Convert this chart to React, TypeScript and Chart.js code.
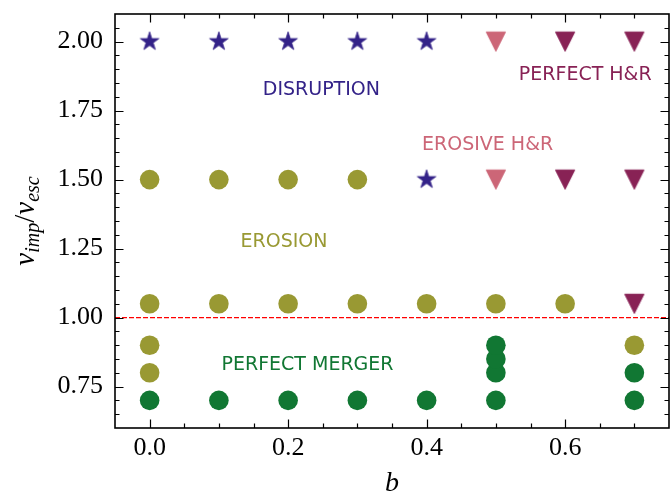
import React, { useEffect, useRef } from "react";
import { Chart, registerables } from "chart.js";

Chart.register(...registerables);

// ---- colours ----
const C_DISRUPTION = "#332288";
const C_EROSION = "#999933";
const C_MERGER = "#117733";
const C_EROSIVE_HR = "#CC6677";
const C_PERFECT_HR = "#882255";

// ---- data ----
const DISRUPTION_X = [0.0, 0.1, 0.2, 0.3, 0.4, 0.4];
const DISRUPTION_Y = [2.0, 2.0, 2.0, 2.0, 2.0, 1.5];

const EROSIVE_HR_X = [0.5, 0.5];
const EROSIVE_HR_Y = [2.0, 1.5];

const PERFECT_HR_X = [0.6, 0.7, 0.6, 0.7, 0.7];
const PERFECT_HR_Y = [2.0, 2.0, 1.5, 1.5, 1.05];

const EROSION_X = [0.0, 0.1, 0.2, 0.3, 0.0, 0.1, 0.2, 0.3, 0.4, 0.5, 0.6, 0.0, 0.0, 0.7];
const EROSION_Y = [1.5, 1.5, 1.5, 1.5, 1.05, 1.05, 1.05, 1.05, 1.05, 1.05, 1.05, 0.9, 0.8, 0.9];

const MERGER_X = [0.0, 0.1, 0.2, 0.3, 0.4, 0.5, 0.5, 0.5, 0.5, 0.7, 0.7];
const MERGER_Y = [0.7, 0.7, 0.7, 0.7, 0.7, 0.7, 0.8, 0.85, 0.9, 0.8, 0.7];

const THRESHOLD_Y = 1.0;

// ---- axes ----
const X_MIN = -0.05;
const X_MAX = 0.75;
const Y_MIN = 0.6;
const Y_MAX = 2.1;
const X_TICKS = [0.0, 0.2, 0.4, 0.6];
const Y_TICKS = [0.75, 1.0, 1.25, 1.5, 1.75, 2.0];
const X_MINOR_STEP = 0.05;
const Y_MINOR_STEP = 0.05;

// ---- region labels ----
const REGION_TEXT = ["DISRUPTION", "EROSION", "PERFECT MERGER", "EROSIVE H&R", "PERFECT H&R"];
const REGION_X = [0.248, 0.194, 0.228, 0.488, 0.629];
const REGION_Y = [1.825, 1.274, 0.828, 1.625, 1.877];
const REGION_COLOR = [C_DISRUPTION, C_EROSION, C_MERGER, C_EROSIVE_HR, C_PERFECT_HR];

// target plot box (pixels)
const AREA = { left: 115, top: 14, right: 669, bottom: 428 };

const pts = (xs: number[], ys: number[]) => xs.map((x, i) => ({ x, y: ys[i] }));

function makeStar(color: string, R: number): HTMLCanvasElement {
  const size = 24;
  const c = document.createElement("canvas");
  c.width = size;
  c.height = size;
  const ctx = c.getContext("2d")!;
  const cx = size / 2;
  const cy = size / 2;
  const r = R * 0.382;
  ctx.beginPath();
  for (let i = 0; i < 10; i++) {
    const a = -Math.PI / 2 + (i * Math.PI) / 5;
    const rr = i % 2 === 0 ? R : r;
    const px = cx + rr * Math.cos(a);
    const py = cy + rr * Math.sin(a);
    if (i === 0) ctx.moveTo(px, py);
    else ctx.lineTo(px, py);
  }
  ctx.closePath();
  ctx.fillStyle = color;
  ctx.fill();
  ctx.strokeStyle = color;
  ctx.lineWidth = 0.8;
  ctx.lineJoin = "round";
  ctx.stroke();
  return c;
}

function makeTriDown(color: string, h: number): HTMLCanvasElement {
  const size = 24;
  const c = document.createElement("canvas");
  c.width = size;
  c.height = size;
  const ctx = c.getContext("2d")!;
  const cx = size / 2;
  const cy = size / 2;
  ctx.beginPath();
  ctx.moveTo(cx - h, cy - h);
  ctx.lineTo(cx + h, cy - h);
  ctx.lineTo(cx, cy + h);
  ctx.closePath();
  ctx.fillStyle = color;
  ctx.fill();
  ctx.strokeStyle = color;
  ctx.lineWidth = 1;
  ctx.lineJoin = "round";
  ctx.stroke();
  return c;
}

const decorPlugin = {
  id: "decor",
  afterDraw(chart: any) {
    const ctx = chart.ctx as CanvasRenderingContext2D;
    const { left, right, top, bottom } = chart.chartArea;
    const xs = chart.scales.x;
    const ys = chart.scales.y;
    ctx.save();

    // region labels
    ctx.font = '19px "DejaVu Sans"';
    ctx.textAlign = "center";
    ctx.textBaseline = "middle";
    REGION_TEXT.forEach((t, i) => {
      ctx.fillStyle = REGION_COLOR[i];
      ctx.fillText(t, xs.getPixelForValue(REGION_X[i]), ys.getPixelForValue(REGION_Y[i]));
    });

    // ticks (inward, all four sides)
    ctx.strokeStyle = "#000";
    ctx.lineWidth = 1.2;
    const MAJ = 8.5;
    const MIN = 4.5;
    const isMajor = (v: number, arr: number[]) => arr.some((a) => Math.abs(a - v) < 1e-6);
    ctx.beginPath();
    for (let v = X_MIN; v <= X_MAX + 1e-9; v += X_MINOR_STEP) {
      const vv = Math.round(v * 1000) / 1000;
      if (vv <= X_MIN + 1e-9 || vv >= X_MAX - 1e-9) continue;
      const px = Math.round(xs.getPixelForValue(vv)) + 0.5;
      const L = isMajor(vv, X_TICKS) ? MAJ : MIN;
      ctx.moveTo(px, bottom);
      ctx.lineTo(px, bottom - L);
      ctx.moveTo(px, top);
      ctx.lineTo(px, top + L);
    }
    for (let v = Y_MIN; v <= Y_MAX + 1e-9; v += Y_MINOR_STEP) {
      const vv = Math.round(v * 1000) / 1000;
      if (vv <= Y_MIN + 1e-9 || vv >= Y_MAX - 1e-9) continue;
      const py = Math.round(ys.getPixelForValue(vv)) + 0.5;
      const L = isMajor(vv, Y_TICKS) ? MAJ : MIN;
      ctx.moveTo(left, py);
      ctx.lineTo(left + L, py);
      ctx.moveTo(right, py);
      ctx.lineTo(right - L, py);
    }
    ctx.stroke();

    // frame
    ctx.lineWidth = 1.6;
    ctx.strokeRect(left, top, right - left, bottom - top);

    // x title
    ctx.fillStyle = "#000";
    ctx.font = 'italic 28px "Liberation Serif"';
    ctx.textAlign = "center";
    ctx.textBaseline = "alphabetic";
    ctx.fillText("b", (left + right) / 2, 491);

    // y title: v_imp / v_esc (rotated)
    const parts: [string, string, number][] = [
      ["v", 'italic 29px "Liberation Serif"', 0],
      ["imp", 'italic 20px "Liberation Serif"', 5],
      ["/", '29px "Liberation Serif"', 0],
      ["v", 'italic 29px "Liberation Serif"', 0],
      ["esc", 'italic 20px "Liberation Serif"', 5],
    ];
    let total = 0;
    const widths = parts.map(([t, f]) => {
      ctx.font = f;
      const w = ctx.measureText(t).width;
      total += w;
      return w;
    });
    ctx.translate(34, (top + bottom) / 2);
    ctx.rotate(-Math.PI / 2);
    ctx.textAlign = "left";
    let cur = -total / 2;
    parts.forEach(([t, f, dy], i) => {
      ctx.font = f;
      ctx.fillText(t, cur, dy);
      cur += widths[i];
    });
    ctx.restore();
  },
};

const zeroPad = (s: any) => {
  s.paddingTop = 0;
  s.paddingBottom = 0;
  s.paddingLeft = 0;
  s.paddingRight = 0;
};

export default function App() {
  const ref = useRef<HTMLCanvasElement>(null);

  useEffect(() => {
    document.body.style.margin = "0";
    const canvas = ref.current!;
    const star = makeStar(C_DISRUPTION, 9.8);
    const triLight = makeTriDown(C_EROSIVE_HR, 9.6);
    const triDark = makeTriDown(C_PERFECT_HR, 9.6);

    const chart = new Chart(canvas, {
      type: "scatter",
      data: {
        datasets: [
          {
            type: "line" as any,
            label: "threshold",
            data: [
              { x: X_MIN, y: THRESHOLD_Y },
              { x: X_MAX, y: THRESHOLD_Y },
            ],
            borderColor: "#ff0000",
            borderWidth: 1.3,
            borderDash: [5, 2],
            pointRadius: 0,
            showLine: true,
            fill: false,
          } as any,
          {
            label: "Disruption",
            data: pts(DISRUPTION_X, DISRUPTION_Y),
            pointStyle: star as any,
            pointRadius: 10,
            backgroundColor: C_DISRUPTION,
            borderColor: C_DISRUPTION,
          },
          {
            label: "Erosive H&R",
            data: pts(EROSIVE_HR_X, EROSIVE_HR_Y),
            pointStyle: triLight as any,
            pointRadius: 10,
            backgroundColor: C_EROSIVE_HR,
            borderColor: C_EROSIVE_HR,
          },
          {
            label: "Perfect H&R",
            data: pts(PERFECT_HR_X, PERFECT_HR_Y),
            pointStyle: triDark as any,
            pointRadius: 10,
            backgroundColor: C_PERFECT_HR,
            borderColor: C_PERFECT_HR,
          },
          {
            label: "Erosion",
            data: pts(EROSION_X, EROSION_Y),
            pointStyle: "circle",
            pointRadius: 9.8,
            borderWidth: 0,
            backgroundColor: C_EROSION,
            borderColor: C_EROSION,
          },
          {
            label: "Perfect merger",
            data: pts(MERGER_X, MERGER_Y),
            pointStyle: "circle",
            pointRadius: 9.8,
            borderWidth: 0,
            backgroundColor: C_MERGER,
            borderColor: C_MERGER,
          },
        ],
      },
      options: {
        responsive: false,
        animation: false,
        events: [],
        layout: {
          autoPadding: false,
          padding: { top: AREA.top, right: 670 - AREA.right, left: 0, bottom: 0 },
        },
        plugins: {
          legend: { display: false },
          tooltip: { enabled: false },
        },
        scales: {
          x: {
            type: "linear",
            min: X_MIN,
            max: X_MAX,
            grid: { display: false, drawTicks: false },
            border: { display: false },
            afterBuildTicks: (s: any) => {
              s.ticks = X_TICKS.map((v) => ({ value: v }));
            },
            afterFit: (s: any) => {
              s.height = 494 - AREA.bottom;
              zeroPad(s);
            },
            ticks: {
              padding: 5,
              color: "#000",
              maxRotation: 0,
              autoSkip: false,
              font: { family: "Liberation Serif", size: 26 },
              callback: (v: any) => Number(v).toFixed(1),
            },
          },
          y: {
            type: "linear",
            min: Y_MIN,
            max: Y_MAX,
            grid: { display: false, drawTicks: false },
            border: { display: false },
            afterBuildTicks: (s: any) => {
              s.ticks = Y_TICKS.map((v) => ({ value: v }));
            },
            afterFit: (s: any) => {
              s.width = AREA.left;
              zeroPad(s);
            },
            ticks: {
              padding: 12,
              color: "#000",
              autoSkip: false,
              font: { family: "Liberation Serif", size: 26 },
              callback: (v: any) => Number(v).toFixed(2),
            },
          },
        },
      },
      plugins: [decorPlugin],
    });
    return () => chart.destroy();
  }, []);

  return (
    <div style={{ width: 670, height: 494 }}>
      <canvas ref={ref} width={670} height={494} style={{ display: "block" }} />
    </div>
  );
}
